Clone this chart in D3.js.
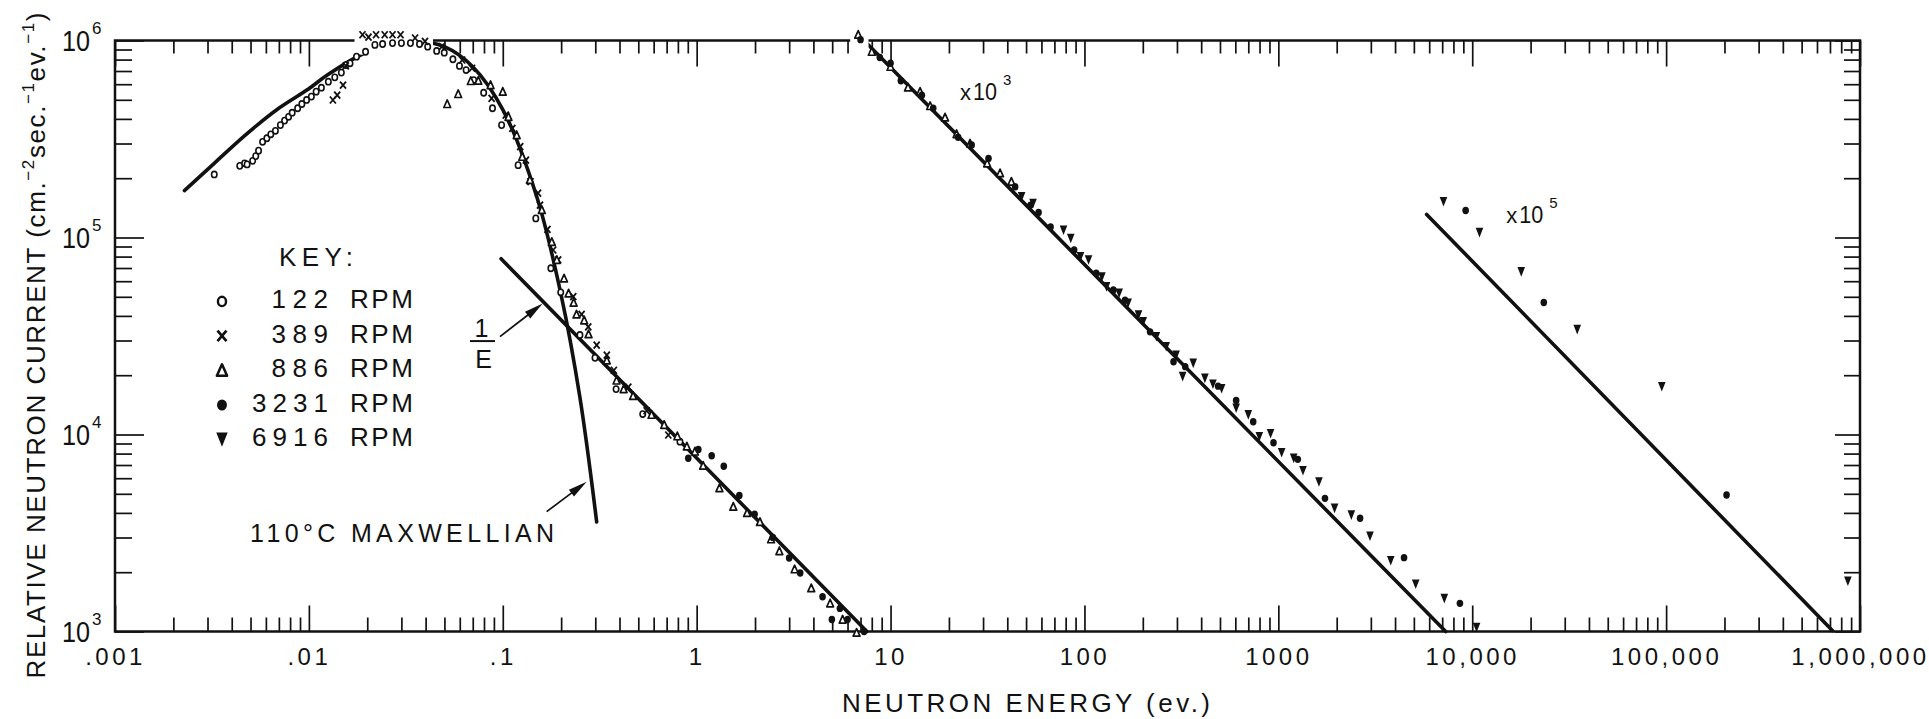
<!DOCTYPE html>
<html><head><meta charset="utf-8">
<script src="https://cdn.jsdelivr.net/npm/d3@7"></script>
<style>
html,body{margin:0;padding:0;background:#fff;}
svg{display:block;background:#fff;}
text{font-family:"Liberation Sans",Arial,sans-serif;fill:#111;}
</style></head><body>
<svg id="chart" width="1929" height="719"></svg>
<script>
// ---------------- DATA ----------------
const xTickValues = [1e-3, 1e-2, 1e-1, 1, 10, 100, 1000, 1e4, 1e5, 1e6];
const xTickLabels = [".001", ".01", ".1", "1", "10", "100", "1000", "10,000", "100,000", "1,000,000"];
const yTickValues = [1e3, 1e4, 1e5, 1e6];
const yTickExponents = ["3", "4", "5", "6"];

// 122 RPM (open circles)  [energy eV, relative current]
const rpm122 = [[0.00325,2.09e5],[0.0044,2.31e5],[0.00466,2.38e5],[0.0048,2.35e5],[0.00513,2.45e5],[0.00532,2.59e5],[0.0055,2.76e5],[0.00577,3.06e5],[0.00607,3.19e5],[0.00636,3.34e5],[0.00672,3.48e5],[0.00713,3.72e5],[0.00749,3.92e5],[0.00786,4.1e5],[0.0082,4.3e5],[0.00875,4.53e5],[0.0092,4.76e5],[0.00973,4.99e5],[0.0103,5.19e5],[0.0109,5.5e5],[0.0116,5.76e5],[0.0126,6.18e5],[0.0136,6.5e5],[0.0147,6.87e5],[0.0155,7.5e5],[0.0163,7.66e5],[0.0176,8.28e5],[0.0196,8.77e5],[0.0219,9.5e5],[0.024,9.6e5],[0.027,9.7e5],[0.030,9.7e5],[0.0334,9.7e5],[0.0372,9.6e5],[0.041,9.3e5],[0.0456,8.85e5],[0.0499,8.67e5],[0.0553,8.03e5],[0.0598,7.43e5],[0.0647,7.08e5],[0.0708,6.3e5],[0.0797,5.43e5],[0.0885,4.53e5],[0.0986,3.72e5],[0.12,2.33e5],[0.148,1.25e5],[0.177,6.98e4],[0.199,5.27e4],[0.25,3.2e4],[0.299,2.45e4],[0.384,1.7e4],[0.527,1.27e4],[0.82,9.2e3]];
// 389 RPM (crosses)
const rpm389 = [[0.0133,4.99e5],[0.014,5.28e5],[0.015,5.94e5],[0.0155,7.43e5],[0.0189,1.07e6],[0.0203,1.04e6],[0.0222,1.07e6],[0.0246,1.07e6],[0.027,1.07e6],[0.0297,1.07e6],[0.0353,1.03e6],[0.0397,9.9e5],[0.0485,9.3e5],[0.0617,7.96e5],[0.0694,7.23e5],[0.0876,5.08e5],[0.1036,4.18e5],[0.112,3.58e5],[0.123,2.89e5],[0.1316,2.47e5],[0.139,1.92e5],[0.152,1.68e5],[0.1556,1.46e5],[0.17,1.1e5],[0.182,8.64e4],[0.193,7.7e4],[0.231,5.01e4],[0.255,4.07e4],[0.276,3.52e4],[0.305,2.84e4],[0.344,2.53e4],[0.374,2.12e4],[0.444,1.74e4],[0.552,1.32e4],[0.714,9.94e3]];
// 886 RPM (open triangles)
const rpm886 = [[0.0517,4.76e5],[0.0589,5.35e5],[0.0684,6.23e5],[0.0748,6.25e5],[0.0865,5.94e5],[0.1,5.5e5],[0.107,4.1e5],[0.118,3.31e5],[0.126,2.57e5],[0.138,1.96e5],[0.159,1.38e5],[0.179,9.5e4],[0.19,7.7e4],[0.207,6.2e4],[0.2185,5.2e4],[0.232,4.67e4],[0.24,4.07e4],[0.263,3.8e4],[0.277,3.23e4],[0.344,2.38e4],[0.386,1.88e4],[0.42,1.7e4],[0.47,1.57e4],[0.585,1.26e4],[0.68,1.12e4],[0.795,9.8e3],[0.89,8.7e3],[0.98,8.2e3],[1.08,6.95e3],[1.31,5.34e3],[1.545,4.3e3],[1.82,4.0e3],[2.12,3.6e3],[2.42,2.94e3],[2.67,2.56e3],[3.2,2.07e3],[3.9,1.66e3],[4.88,1.39e3],[5.66,1.15e3],[6.68,986]];
const rpm886_x1e3 = [[6.81,1.07e6],[8.0,8.77e5],[9.99,7.36e5],[12.3,5.78e5],[14.2,5.5e5],[16.0,4.65e5],[19.1,4.07e5],[21.9,3.35e5],[25.7,3.0e5],[31.5,2.38e5],[36.7,2.12e5],[42,1.92e5]];
// 3231 RPM (filled circles)
const rpm3231 = [[0.905,7.57e3],[1.02,8.4e3],[1.195,7.8e3],[1.38,6.9e3],[1.66,4.9e3],[1.99,3.94e3],[2.47,3.0e3],[3.0,2.36e3],[3.42,1.98e3],[4.46,1.5e3],[4.98,1.15e3],[5.48,1.31e3],[6.0,1.15e3],[7.3,1.0e3]];
const rpm3231_x1e3 = [[7.0,1.01e6],[8.8,8.2e5],[10,7.66e5],[11.3,6.25e5],[14.5,5.28e5],[16.6,4.53e5],[22.3,3.23e5],[26.2,2.95e5],[32,2.52e5],[43.9,1.81e5],[52.7,1.46e5],[58,1.34e5],[66.9,1.13e5],[88.5,8.65e4],[115,6.58e4],[141,5.41e4],[162,4.8e4],[218,3.32e4],[288,2.34e4],[331,2.21e4],[489,1.76e4],[606,1.49e4],[742,1.16e4],[944,9.08e3],[1260,7.48e3],[1740,4.74e3],[2640,3.76e3],[4450,2.37e3],[8640,1.39e3]];
const rpm3231_x1e5 = [[9250,1.37e5],[2.34e4,4.68e4],[2.05e5,4.93e3]];
// 6916 RPM (filled inverted triangles)
const rpm6916_x1e3 = [[47.4,1.61e5],[54.3,1.49e5],[78,1.09e5],[85,9.9e4],[95.4,7.98e4],[105,7.7e4],[123,6.3e4],[130,5.62e4],[151,5.21e4],[168,4.64e4],[190,4.04e4],[201,3.74e4],[235,3.14e4],[264,2.79e4],[297,2.53e4],[321,1.97e4],[364,2.3e4],[418,1.93e4],[460,1.8e4],[510,1.71e4],[606,1.36e4],[700,1.26e4],[798,9.75e3],[912,1.01e4],[1040,8.09e3],[1200,7.57e3],[1340,6.55e3],[1620,5.75e3],[1950,4.22e3],[2380,3.9e3],[2970,3.05e3],[3800,2.29e3],[5110,1.74e3],[7180,1.47e3],[10530,1.05e3]];
const rpm6916_x1e5 = [[7110,1.52e5],[1.09e4,1.06e5],[1.79e4,6.7e4],[3.48e4,3.41e4],[9.5e4,1.75e4],[8.66e5,1.8e3]];

// 110 C Maxwellian curve
const maxwellian = [[0.00228,1.73e5],[0.00325,2.38e5],[0.0047,3.31e5],[0.0068,4.44e5],[0.0099,5.65e5],[0.0125,6.7e5],[0.02,8.77e5],[0.03,9.9e5],[0.035,1.0e6],[0.05,9.3e5],[0.07,7.36e5],[0.1,4.46e5],[0.15,1.6e5],[0.2,5.1e4],[0.25,1.54e4],[0.305,3.6e3]];
// 1/E lines (unscaled, x10^3, x10^5)
const oneOverE = [[0.098,7.8e4],[7.55,1.0e3]];
const oneOverE_x1e3 = [[7.3,1.0e6],[7300,1.0e3]];
const oneOverE_x1e5 = [[5820,1.31e5],[7.22e5,1.01e3]];

const legendLabels = ["122", "389", "886", "3231", "6916"];
const legendSymbols = ["circle", "x", "tri", "dot", "tridown"];

// annotation anchors (data space)
const arrowOneOverE = [[0.0967,3.14e4],[0.1606,4.62e4]];
const arrowMaxwell = [[0.1684,4.06e3],[0.2708,5.76e3]];
const fracAnchor = [0.0786,2.98e4];
const maxwellLabelAnchor = [0.00497,2.86e3];
const keyAnchor = [0.00701,7.17e4];
const x1e3Anchor = [22.8,4.99e5];
const x1e5Anchor = [1.5e4,1.18e5];

// ---------------- CHART ----------------
const INK = "#111";
const svg = d3.select("#chart");
const x = d3.scaleLog().domain([1e-3, 1e6]).range([115, 1860]);
const y = d3.scaleLog().domain([1e3, 1e6]).range([631.5, 40.5]);

const xMinor = [], yMinor = [];
for (let n = -3; n <= 5; n++) for (let k = 2; k <= 9; k++) xMinor.push(k * Math.pow(10, n));
for (let n = 3; n <= 5; n++) for (let k = 2; k <= 9; k++) yMinor.push(k * Math.pow(10, n));

function styleAxis(g, fs) {
  g.select(".domain").remove();
  g.attr("font-family", null).attr("font-size", null);
  g.selectAll(".tick line").attr("stroke", INK).attr("stroke-width", 1.7);
  g.selectAll(".tick text").attr("fill", INK).attr("font-size", fs || 24).attr("letter-spacing", 3.5);
}

// bottom
svg.append("g").attr("transform", `translate(0,${y(1e3)})`)
  .call(d3.axisBottom(x).tickValues(xTickValues).tickSize(-26).tickPadding(16.5).tickFormat((d, i) => xTickLabels[i]))
  .call(g => styleAxis(g));
svg.append("g").attr("transform", `translate(0,${y(1e3)})`)
  .call(d3.axisBottom(x).tickValues(xMinor).tickSize(-14).tickFormat(""))
  .call(g => styleAxis(g));
// top
svg.append("g").attr("transform", `translate(0,${y(1e6)})`)
  .call(d3.axisTop(x).tickValues(xTickValues).tickSize(-26).tickFormat(""))
  .call(g => styleAxis(g));
svg.append("g").attr("transform", `translate(0,${y(1e6)})`)
  .call(d3.axisTop(x).tickValues(xMinor).tickSize(-13).tickFormat(""))
  .call(g => styleAxis(g));
// left
svg.append("g").attr("transform", `translate(${x(1e-3)},0)`)
  .call(d3.axisLeft(y).tickValues(yTickValues).tickSize(-29).tickFormat(""))
  .call(g => styleAxis(g));
svg.append("g").attr("transform", `translate(${x(1e-3)},0)`)
  .call(d3.axisLeft(y).tickValues(yMinor).tickSize(-17).tickFormat(""))
  .call(g => styleAxis(g));
// right
svg.append("g").attr("transform", `translate(${x(1e6)},0)`)
  .call(d3.axisRight(y).tickValues(yTickValues).tickSize(-25).tickFormat(""))
  .call(g => styleAxis(g));
svg.append("g").attr("transform", `translate(${x(1e6)},0)`)
  .call(d3.axisRight(y).tickValues(yMinor).tickSize(-16).tickFormat(""))
  .call(g => styleAxis(g));

// frame
svg.append("rect").attr("x", x(1e-3)).attr("y", y(1e6))
  .attr("width", x(1e6) - x(1e-3)).attr("height", y(1e3) - y(1e6))
  .attr("fill", "none").attr("stroke", INK).attr("stroke-width", 2.5);

// y tick labels 10^n
yTickValues.forEach((v, i) => {
  svg.append("text").attr("x", 62).attr("y", y(v) + 10.5)
    .attr("font-size", 29).attr("textLength", 28).attr("lengthAdjust", "spacingAndGlyphs").text("10");
  svg.append("text").attr("x", 92).attr("y", y(v) - 6.5)
    .attr("font-size", 17).text(yTickExponents[i]);
});

// axis titles
svg.append("text").attr("x", 1026).attr("y", 711.5).attr("text-anchor", "middle")
  .attr("font-size", 26).attr("textLength", 368).attr("lengthAdjust", "spacing")
  .text("NEUTRON ENERGY (ev.)");

const yt = svg.append("text").attr("transform", "translate(44.5,345.5) rotate(-90)")
  .attr("text-anchor", "middle").attr("font-size", 26)
  .attr("textLength", 666).attr("lengthAdjust", "spacing");
yt.append("tspan").text("RELATIVE NEUTRON CURRENT (cm.");
yt.append("tspan").attr("font-size", 17).attr("dy", -11).text("\u22122");
yt.append("tspan").attr("dy", 11).text("sec.");
yt.append("tspan").attr("font-size", 17).attr("dy", -11).text("\u22121");
yt.append("tspan").attr("dy", 11).text("ev.");
yt.append("tspan").attr("font-size", 17).attr("dy", -11).text("\u22121");
yt.append("tspan").attr("dy", 11).text(")");

// lines
const line = d3.line().x(d => x(d[0])).y(d => y(d[1]));
svg.append("path").datum(maxwellian)
  .attr("d", line.curve(d3.curveCatmullRom.alpha(0.5)))
  .attr("fill", "none").attr("stroke", INK).attr("stroke-width", 3.6).attr("stroke-linecap", "round");
const straight = d3.line().x(d => x(d[0])).y(d => y(d[1]));
[oneOverE, oneOverE_x1e3, oneOverE_x1e5].forEach(seg => {
  svg.append("path").datum(seg).attr("d", straight)
    .attr("fill", "none").attr("stroke", INK).attr("stroke-width", 3.6).attr("stroke-linecap", "round");
});

// symbols
function drawSym(g, type, cx, cy, k) {
  if (type === "circle") {
    g.append("ellipse").attr("cx", cx).attr("cy", cy).attr("rx", 2.7 * k).attr("ry", 3.1 * k)
      .attr("fill", "#fff").attr("stroke", INK).attr("stroke-width", 1.6 * k);
  } else if (type === "dot") {
    g.append("ellipse").attr("cx", cx).attr("cy", cy).attr("rx", 3.3 * k).attr("ry", 3.7 * k).attr("fill", INK);
  } else if (type === "x") {
    const a = 3.0 * k, b = 3.5 * k;
    g.append("path").attr("d", `M${cx - a},${cy - b}L${cx + a},${cy + b}M${cx + a},${cy - b}L${cx - a},${cy + b}`)
      .attr("stroke", INK).attr("stroke-width", 1.8 * k).attr("fill", "none");
  } else if (type === "tri") {
    g.append("path").attr("d", `M${cx},${cy - 4.1 * k}L${cx + 3.4 * k},${cy + 3.5 * k}L${cx - 3.4 * k},${cy + 3.5 * k}Z`)
      .attr("stroke", INK).attr("stroke-width", 1.7 * k).attr("fill", "#fff").attr("stroke-linejoin", "round");
  } else if (type === "tridown") {
    g.append("path").attr("d", `M${cx - 3.8 * k},${cy - 4.7 * k}L${cx + 3.8 * k},${cy - 4.7 * k}L${cx},${cy + 4.9 * k}Z`)
      .attr("fill", INK);
  }
}
const seriesDefs = [
  [rpm122, "circle"], [rpm389, "x"], [rpm886, "tri"], [rpm886_x1e3, "tri"],
  [rpm3231, "dot"], [rpm3231_x1e3, "dot"], [rpm3231_x1e5, "dot"],
  [rpm6916_x1e3, "tridown"], [rpm6916_x1e5, "tridown"]
];

// the drafted top border is interrupted where points sit on it
const topY = y(1e6);
seriesDefs.forEach(([data]) => data.forEach(d => {
  const py = y(d[1]);
  if (py < topY + 6) {
    svg.append("rect").attr("x", x(d[0]) - 8).attr("y", topY - 4).attr("width", 16).attr("height", 18).attr("fill", "#fff");
  }
}));

const gm = svg.append("g");
seriesDefs.forEach(([data, sym]) => data.forEach(d => drawSym(gm, sym, x(d[0]), y(d[1]), 1)));

// arrows
function arrow(pts) {
  const p0 = [x(pts[0][0]), y(pts[0][1])], p1 = [x(pts[1][0]), y(pts[1][1])];
  const dx = p1[0] - p0[0], dy = p1[1] - p0[1], L = Math.hypot(dx, dy);
  const ux = dx / L, uy = dy / L, nx = -uy, ny = ux, hl = 19, hw = 4.3;
  const bx = p1[0] - ux * hl, by = p1[1] - uy * hl;
  svg.append("path").attr("d", `M${p0[0]},${p0[1]}L${bx + ux * 2},${by + uy * 2}`)
    .attr("stroke", INK).attr("stroke-width", 1.7);
  svg.append("path").attr("d", `M${p1[0]},${p1[1]}L${bx + nx * hw},${by + ny * hw}L${bx - nx * hw},${by - ny * hw}Z`)
    .attr("fill", INK);
}
arrow(arrowOneOverE);
arrow(arrowMaxwell);

// 1/E fraction label
const fx = x(fracAnchor[0]), fy = y(fracAnchor[1]);
svg.append("text").attr("x", fx - 1).attr("y", fy - 4).attr("text-anchor", "middle").attr("font-size", 25).text("1");
svg.append("line").attr("x1", fx - 12.5).attr("x2", fx + 12.5).attr("y1", fy).attr("y2", fy)
  .attr("stroke", INK).attr("stroke-width", 2);
svg.append("text").attr("x", fx + 1).attr("y", fy + 27).attr("text-anchor", "middle").attr("font-size", 25).text("E");

// Maxwellian label
svg.append("text").attr("x", x(maxwellLabelAnchor[0])).attr("y", y(maxwellLabelAnchor[1]))
  .attr("font-size", 25).attr("textLength", 304).attr("lengthAdjust", "spacing").text("110\u00B0C  MAXWELLIAN");

// scale factor labels
function scaleLabel(anchor, exp) {
  const ax = x(anchor[0]), ay = y(anchor[1]);
  svg.append("text").attr("x", ax).attr("y", ay).attr("font-size", 22).text("x");
  svg.append("text").attr("x", ax + 13).attr("y", ay).attr("font-size", 23)
    .attr("textLength", 24).attr("lengthAdjust", "spacingAndGlyphs").text("10");
  svg.append("text").attr("x", ax + 43).attr("y", ay - 15).attr("font-size", 15).text(exp);
}
scaleLabel(x1e3Anchor, "3");
scaleLabel(x1e5Anchor, "5");

// key
const kx = x(keyAnchor[0]), ky = y(keyAnchor[1]);
svg.append("text").attr("x", kx).attr("y", ky).attr("font-size", 26)
  .attr("textLength", 74).attr("lengthAdjust", "spacing").text("KEY:");
const gl = svg.append("g");
legendLabels.forEach((lab, i) => {
  const rowY = ky + 35.5 + i * 34.5;
  drawSym(gl, legendSymbols[i], kx - 57, rowY, 1.5);
  gl.append("text").attr("x", kx + 49).attr("y", rowY + 7).attr("text-anchor", "end")
    .attr("font-size", 26).attr("textLength", lab.length * 19.5 - 2).attr("lengthAdjust", "spacing").text(lab);
  gl.append("text").attr("x", kx + 71).attr("y", rowY + 7)
    .attr("font-size", 26).attr("textLength", 63).attr("lengthAdjust", "spacing").text("RPM");
});
</script>
</body></html>
